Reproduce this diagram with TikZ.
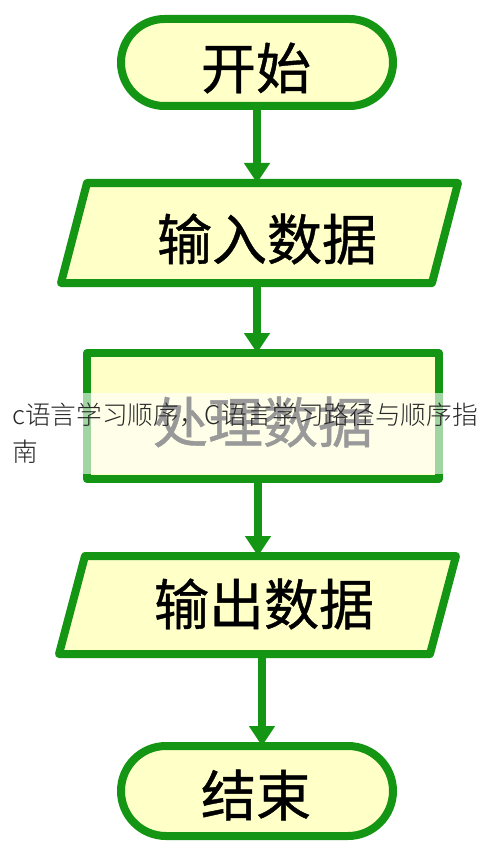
\documentclass[tikz,border=0pt]{standalone}
\usepackage{fontspec}
\newfontfamily\cjk{Noto Sans CJK SC Light}
\newfontfamily\cjkb[FakeBold=0.8]{Noto Sans CJK SC}
\usetikzlibrary{shapes.misc,arrows.meta}
\definecolor{fgreen}{RGB}{20,150,20}
\definecolor{fyellow}{RGB}{255,255,200}
\definecolor{captxt}{RGB}{40,40,40}
\tikzset{
  boxline/.style={draw=fgreen, fill=fyellow, line width=8pt, line join=round},
  flowbox/.style={boxline, inner sep=0pt, outer sep=0pt},
  termbox/.style={flowbox, rounded rectangle, minimum width=272pt},
  iobase/.style={rectangle, draw=none, inner sep=0pt, outer sep=0pt, minimum width=371pt},
  procbox/.style={flowbox, rectangle, minimum width=352pt, minimum height=126pt},
  labtext/.style={font=\cjkb\fontsize{55}{60}\selectfont, text=black, inner sep=0pt},
  flowarrow/.style={draw=fgreen, line width=8pt, -{Triangle[length=20pt,width=25pt]}},
  captext/.style={font=\cjk\fontsize{25.7}{37}\selectfont, text=captxt, anchor=west, inner sep=0pt}
}
\begin{document}
\begin{tikzpicture}[x=1pt,y=-1pt]
\fill[white] (0,0) rectangle (490,853);
\useasboundingbox (0,0) rectangle (490,853);
\node[termbox, minimum height=87pt] (start) at (257,62.5) {};
\node[iobase, minimum height=100pt] (input) at (259.5,233) {};
\path[boxline] ([xshift=13pt]input.north west) -- ([xshift=13pt]input.north east) -- ([xshift=-13pt]input.south east) -- ([xshift=-13pt]input.south west) -- cycle;
\node[procbox] (proc) at (263,416) {};
\node[iobase, minimum height=98pt] (output) at (257.5,605) {};
\path[boxline] ([xshift=13pt]output.north west) -- ([xshift=13pt]output.north east) -- ([xshift=-13pt]output.south east) -- ([xshift=-13pt]output.south west) -- cycle;
\node[termbox, minimum height=90pt] (end) at (257,791) {};
\node[labtext] (tstart) at (256,68) {开始};
\node[labtext] (tinput) at (267,239) {输入数据};
\node[labtext] (tproc) at (263,422) {处理数据};
\node[labtext] (toutput) at (264,604) {输出数据};
\node[labtext] (tend) at (256,795) {结束};
\draw[flowarrow] (start.south) -- (start.south |- input.north);
\draw[flowarrow] ([xshift=-2.5pt]input.south) -- ([xshift=-2.5pt]input.south |- proc.north);
\draw[flowarrow] ([xshift=-5pt]proc.south) -- ([xshift=-5pt]proc.south |- output.north);
\draw[flowarrow] ([xshift=4.5pt]output.south) -- ([xshift=4.5pt]output.south |- end.north);
\fill[white, opacity=0.6] (0,393) rectangle (490,474);
\node[captext] (cap1) at (12,415) {c语言学习顺序，C语言学习路径与顺序指};
\node[captext] (cap2) at (12,452) {南};
\end{tikzpicture}
\end{document}
